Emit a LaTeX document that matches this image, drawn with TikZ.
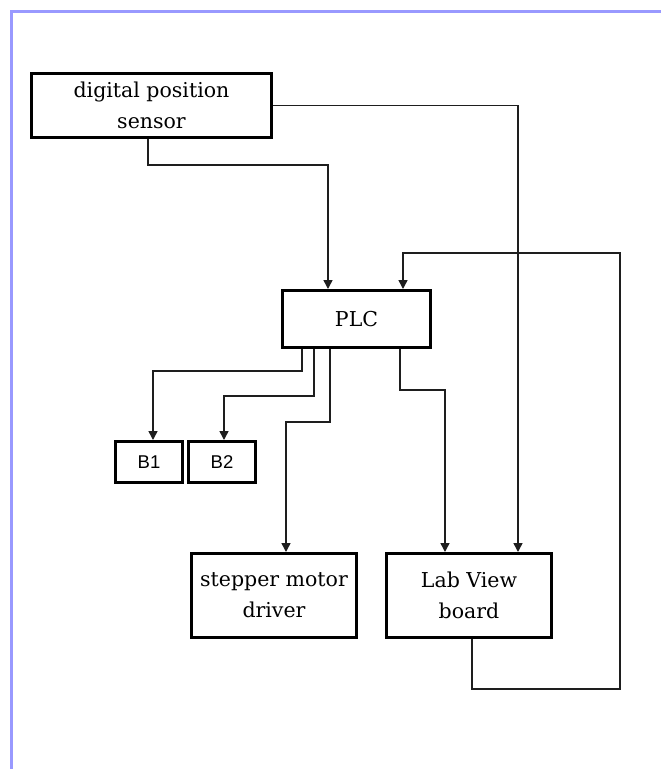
\documentclass[tikz,border=0pt]{standalone}
\usepackage{fontspec}
\setmainfont{DejaVu Serif}
\newfontfamily\bfont{Liberation Sans}
\usetikzlibrary{arrows.meta}
\definecolor{frameblue}{RGB}{153,153,255}
\definecolor{linegray}{RGB}{30,30,30}
\tikzset{
  blockbox/.style={draw=black, line width=3pt, fill=white, inner sep=0pt, align=center,
    font={\fontsize{20.5}{31}\selectfont}},
  smallbox/.style={draw=black, line width=3pt, fill=white, inner sep=0pt,
    font={\bfont\fontsize{18.5}{20}\selectfont}},
  conn/.style={draw=linegray, line width=1.5pt},
  arr/.style={conn, -{Triangle[width=9pt,length=9pt]}},
}
\begin{document}
\begin{tikzpicture}[x=1pt,y=-1pt]
\useasboundingbox (0,0) rectangle (661,769);
\fill[white] (0,0) rectangle (661,769);
% frame lines
\draw[frameblue, line width=3pt] (11.5,769) -- (11.5,11.5) -- (661,11.5);

% blocks
\node[blockbox, minimum width=240pt, minimum height=64pt] (sensor) at (151.5,105.5) {digital position\\sensor};
\node[blockbox, minimum width=148pt, minimum height=57pt] (plc) at (356.5,319) {PLC};
\node[smallbox, minimum width=67pt, minimum height=41pt] (b1) at (149,462) {B1};
\node[smallbox, minimum width=67pt, minimum height=41pt] (b2) at (222,462) {B2};
\node[blockbox, minimum width=165pt, minimum height=84pt] (step) at (274,595.5) {stepper motor\\driver};
\node[blockbox, minimum width=165pt, minimum height=84pt] (lab) at (469,595.5) {Lab View\\board};
\coordinate (ret) at (620,253);

% connectors
\draw[arr] ([xshift=-3.5pt]sensor.south) -- ++(0,26) -| ([xshift=-28.5pt]plc.north);
\draw[arr] (sensor.east) -| ([xshift=49pt]lab.north);
\draw[arr] ([xshift=-54.5pt]plc.south) -- ++(0,22) -| ([xshift=4pt]b1.north);
\draw[arr] ([xshift=-42.5pt]plc.south) -- ++(0,47) -| ([xshift=2pt]b2.north);
\draw[arr] ([xshift=-26.5pt]plc.south) -- ++(0,73) -| ([xshift=12pt]step.north);
\draw[arr] ([xshift=43.5pt]plc.south) -- ++(0,41) -| ([xshift=-24pt]lab.north);
\draw[arr] ([xshift=3pt]lab.south) -- ++(0,50) -| (ret) -| ([xshift=46.5pt]plc.north);
\end{tikzpicture}
\end{document}
